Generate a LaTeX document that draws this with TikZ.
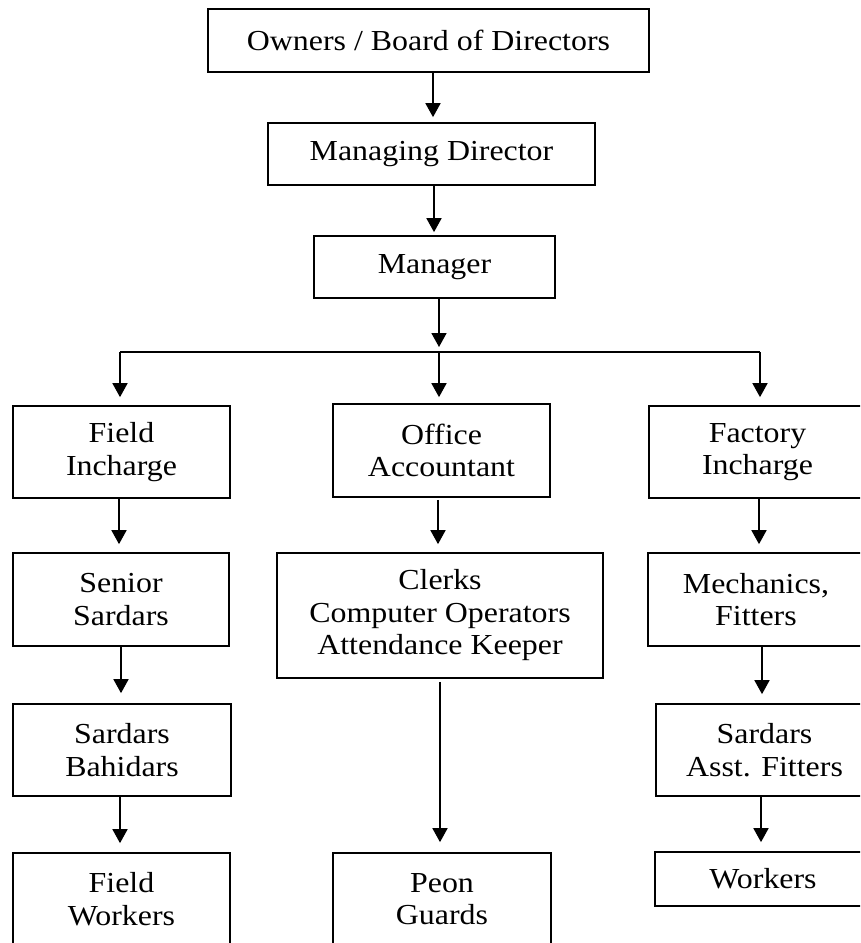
\documentclass[tikz,border=0pt]{standalone}
\usepackage{fontspec}
\setmainfont{Liberation Serif}[FakeStretch=1.1]
\usetikzlibrary{arrows.meta}
\begin{document}
\begin{tikzpicture}[x=1pt,y=-1pt,
  box/.style={draw, line width=1.7pt, inner sep=0pt, align=center,
    font=\fontsize{29}{32.5}\selectfont},
  arr/.style={line width=1.7pt, -{Triangle[width=15pt,length=14pt]}, shorten >=8pt},
  link/.style={line width=1.7pt}]
\useasboundingbox (0,0) rectangle (860,943);
\clip (0,0) rectangle (860,943);

% top of the hierarchy
\node[box, minimum width=441pt, minimum height=63pt] (own) at (428.5,40.5) {Owners / Board of Directors};
\node[box, minimum width=327pt, minimum height=62pt] (md) at (431.5,154) {Managing Director};
\node[box, minimum width=241pt, minimum height=62pt] (mgr) at (434.5,267) {Manager};

% three departments
\node[box, minimum width=217pt, minimum height=92pt] (fi) at (121.5,452) {Field\\Incharge};
\node[box, minimum width=217pt, minimum height=93pt] (oa) at (441.5,450.5) {Office\\Accountant};
\node[box, minimum width=217pt, minimum height=92pt] (fac) at (757.5,452) {Factory\\Incharge};

\node[box, minimum width=216pt, minimum height=93pt] (ss) at (121,599.5) {Senior\\Sardars};
\node[box, minimum width=326pt, minimum height=125pt] (clk) at (440,615.5) {Clerks\\Computer Operators\\Attendance Keeper};
\node[box, minimum width=216pt, minimum height=93pt] (mech) at (756,599.5) {Mechanics,\\Fitters};

\node[box, minimum width=218pt, minimum height=92pt] (sb) at (122,750) {Sardars\\Bahidars};
\node[box, minimum width=217pt, minimum height=92pt] (saf) at (764.5,750) {Sardars\\Asst. Fitters};

\node[box, minimum width=217pt, minimum height=92pt] (fw) at (121.5,899) {Field\\Workers};
\node[box, minimum width=218pt, minimum height=92pt] (peon) at (442,899) {Peon\\Guards};
\node[box, minimum width=216pt, minimum height=54pt] (wk) at (763,879) {Workers};

% branching bus below the manager
\coordinate (busL) at (120,352);
\coordinate (busM) at (439,352);
\coordinate (busR) at (760,352);

\draw[arr, shorten >=5pt] ([xshift=4.5pt]own.south) -- ([xshift=1.5pt]md.north);
\draw[arr, shorten >=3pt] ([xshift=2.5pt]md.south) -- ([xshift=-0.5pt]mgr.north);
\draw[arr, shorten >=5pt] ([xshift=4.5pt]mgr.south) -- (busM);
\draw[link] (busL) -- (busR);
\draw[arr] (busL) -- (busL |- fi.north);
\draw[arr, shorten >=6pt] (busM) -- (busM |- oa.north);
\draw[arr] (busR) -- (busR |- fac.north);

% field column
\draw[arr] ([xshift=-2.5pt]fi.south) -- ([xshift=-2pt]ss.north);
\draw[arr, shorten >=10pt] (ss.south) -- ([xshift=-1pt]sb.north);
\draw[arr, shorten >=9pt] ([xshift=-2pt]sb.south) -- ([xshift=-1.5pt]fw.north);

% office column
\draw[arr, shorten <=2pt] ([xshift=-3.5pt]oa.south) -- ([xshift=-2pt]clk.north);
\draw[arr, shorten <=3pt, shorten >=10pt] (clk.south) -- ([xshift=-2pt]peon.north);

% factory column
\draw[arr] ([xshift=1.5pt]fac.south) -- ([xshift=3pt]mech.north);
\draw[arr, shorten >=9pt] ([xshift=6pt]mech.south) -- ([xshift=-2.5pt]saf.north);
\draw[arr, shorten >=9pt] ([xshift=-3.5pt]saf.south) -- ([xshift=-2pt]wk.north);
\end{tikzpicture}
\end{document}
